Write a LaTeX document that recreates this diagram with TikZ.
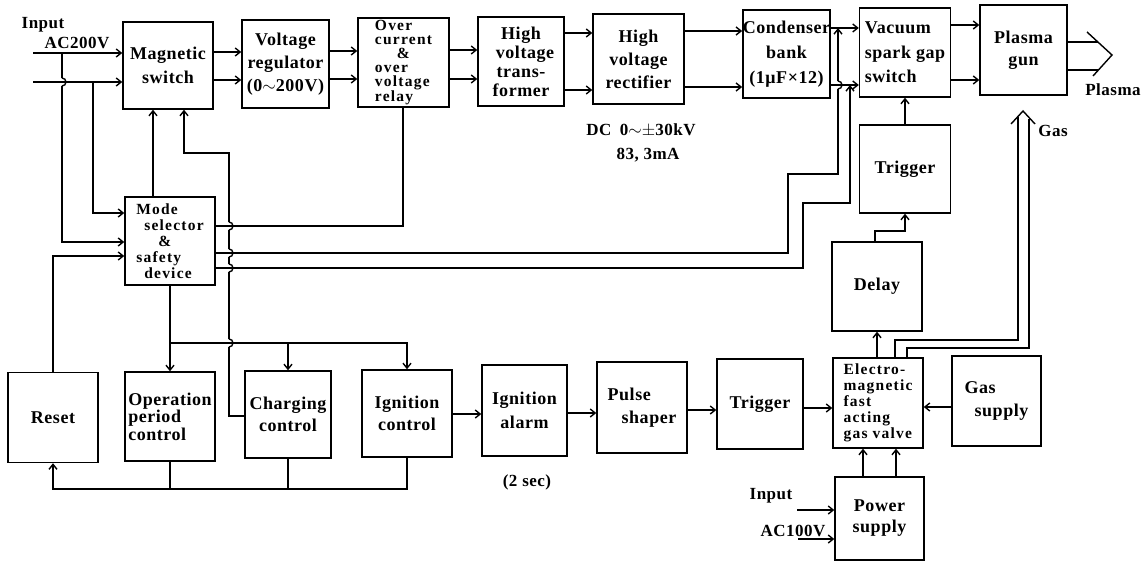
\documentclass[tikz,border=0pt]{standalone}
\usepackage{fontspec}
\setmainfont{Liberation Serif}[LetterSpace=3.0]
\newfontfamily\smallfont{Liberation Serif}[LetterSpace=8.0]
\usetikzlibrary{arrows.meta}
\tikzset{
 blk/.style={draw,inner sep=0pt,minimum width=89pt,minimum height=89pt,align=center,font=\bfseries\fontsize{18}{#1}\selectfont},
 blk/.default=22,
 sblk/.style={draw,inner sep=0pt,minimum width=90pt,minimum height=89pt,align=left,font=\smallfont\bfseries\fontsize{15.5}{#1}\selectfont},
 sblk/.default=15,
 lbl/.style={inner sep=0pt,font=\bfseries\fontsize{17}{20}\selectfont},
 arr/.style={-{Straight Barb[length=5pt,width=8pt]}}
}
\begin{document}
\begin{tikzpicture}[x=1pt,y=-1pt,line width=1.4pt]
\useasboundingbox (0,0) rectangle (1147,564);
% ---- top row
\node[blk=24,minimum width=90pt,minimum height=87pt] (ms) at (168,65.5) {Magnetic\\switch};
\node[blk=23,minimum width=87pt,minimum height=88pt] (vr) at (285.5,64) {Voltage\\regulator\\(0$\sim$200V)};
\node[sblk=14,minimum width=91pt] (ocr) at (403.5,62.5) {Over\\current\\\hspace*{22pt}\&\\over\\voltage\\relay};
\node[blk=19,minimum width=86pt] (hvt) at (521,61.5) {High\\\hspace*{8pt}voltage\\trans-\\former};
\node[blk=23,minimum width=91pt,minimum height=90pt] (hvr) at (638.5,59) {High\\voltage\\rectifier};
\node[blk=25,minimum width=87pt,minimum height=88pt] (cb) at (786.5,54) {Condenser\\bank\\(1μF×12)};
\node[blk=24.5,minimum width=91pt,align=left] (vs) at (905,52.5) {Vacuum\\spark gap\\switch};
\node[blk=22,minimum width=87pt,minimum height=90pt] (pg) at (1023.5,50) {Plasma\\gun};
% ---- right column
\node[blk,minimum width=91pt,minimum height=88pt] (trig1) at (905,169) {Trigger};
\node[blk,minimum width=90pt] (delay) at (877,286.5) {Delay};
\node[sblk=16,minimum width=90pt,minimum height=90pt] (valve) at (878,403) {Electro-\\magnetic\\fast\\acting\\gas valve};
\node[blk=23,minimum width=89pt,minimum height=90pt,align=left] (gas) at (996.5,401) {Gas\\\hspace*{10pt}supply};
\node[blk=21,minimum width=89pt,minimum height=83pt] (ps) at (879.5,518.5) {Power\\supply};
% ---- bottom row
\node[blk,minimum width=86pt,minimum height=90pt] (trig2) at (760,404) {Trigger};
\node[blk=23,minimum width=90pt,minimum height=91pt,align=left] (pulse) at (642,407.5) {Pulse\\\hspace*{14pt}shaper};
\node[blk=24,minimum width=85pt,minimum height=91pt] (alarm) at (524.5,410.5) {Ignition\\alarm};
\node[blk=22,minimum width=90pt,minimum height=87pt] (ign) at (407,413.5) {Ignition\\control};
\node[blk=22,minimum width=86pt,minimum height=87pt] (chg) at (288,414.5) {Charging\\control};
\node[blk=17.5,minimum width=90pt,minimum height=89pt,align=left] (op) at (170,416.5) {Operation\\period\\control};
\node[blk,minimum width=90pt,minimum height=90pt] (reset) at (53,417.5) {Reset};
\node[sblk=16,minimum width=90pt,minimum height=88pt] (mode) at (170,241) {Mode\\\hspace*{8pt}selector\\\hspace*{22pt}\&\\safety\\\hspace*{8pt}device};
% ---- labels
\node[lbl] (tin) at (43,25) {Input};
\node[lbl] (tac) at (77,43) {AC200V};
\node[lbl] (tdc) at (641,130) {DC\enspace 0$\sim$$\pm$30kV};
\node[lbl] (tma) at (648,155) {83, 3mA};
\node[lbl] (tsec) at (527,482) {(2 sec)};
\node[lbl] (tin2) at (771,496) {Input};
\node[lbl] (tac2) at (793,531) {AC100V};
\node[lbl] (tgas) at (1053,131) {Gas};
\node[lbl] (tpl) at (1113,90) {Plasma};
% ---- coordinates
\coordinate (inA) at (33,53);
\coordinate (inB) at (33,82);
\coordinate (jA) at (62,53);
\coordinate (jB) at (93,82);
\coordinate (jTop) at (838,28);
\coordinate (jBot) at (850,85);
\coordinate (inC) at (797,510);
\coordinate (inD) at (798,539);
\coordinate (pa) at (1098,42);
\coordinate (pb) at (1098,70);
% ---- top chain
\draw[arr] (inA) -- (ms.west |- inA);
\draw[arr] (inB) -- (ms.west |- inB);
\draw[arr] (ms.east |- 0,52) -- (vr.west |- 0,52);
\draw[arr] (ms.east |- 0,80) -- (vr.west |- 0,80);
\draw[arr] (vr.east |- 0,51) -- (ocr.west |- 0,51);
\draw[arr] (vr.east |- 0,79) -- (ocr.west |- 0,79);
\draw[arr] (ocr.east |- 0,50) -- (hvt.west |- 0,50);
\draw[arr] (ocr.east |- 0,79) -- (hvt.west |- 0,79);
\draw[arr] (hvt.east |- 0,33) -- (hvr.west |- 0,33);
\draw[arr] (hvt.east |- 0,90) -- (hvr.west |- 0,90);
\draw[arr] (hvr.east |- 0,31) -- (cb.west |- 0,31);
\draw[arr] (hvr.east |- 0,87) -- (cb.west |- 0,87);
\draw[arr] (cb.east |- 0,28) -- (vs.west |- 0,28);
\draw[arr] (cb.east |- 0,85) -- (vs.west |- 0,85);
\draw[arr] (vs.east |- 0,25) -- (pg.west |- 0,25);
\draw[arr] (vs.east |- 0,80) -- (pg.west |- 0,80);
% plasma out
\draw (pg.east |- pa) -- (pa);
\draw (pg.east |- pb) -- (pb);
\draw (1087,32) -- (1112,55) -- (1093,76);
% input branches to mode selector (vertical hops drawn as separate arcs)
\draw (jA) -- (62,78);
\draw (62,78) arc (90:-90:4pt);
\draw[arr] (62,86) -- (62,242) -- (mode.west |- 0,242);
\draw[arr] (jB) -- (93,213) -- (mode.west |- 0,213);
\draw[arr] (reset.north) -- (reset.north |- 0,256) -- (mode.west |- 0,256);
% mode -> magnetic switch
\draw[arr] (mode.north -| 153,0) -- (ms.south -| 153,0);
% charging control -> magnetic switch
\draw (chg.west |- 0,416) -- (229,416) -- (229,347);
\draw (229,347) arc (-90:90:4pt);
\draw (229,339) -- (229,272);
\draw (229,272) arc (-90:90:4pt);
\draw (229,264) -- (229,257);
\draw (229,257) arc (-90:90:4pt);
\draw (229,249) -- (229,230);
\draw (229,230) arc (-90:90:4pt);
\draw[arr] (229,222) -- (229,153) -- (184,153) -- (ms.south -| 184,0);
% relay -> mode
\draw (ocr.south -| 403,0) -- (403,226) -- (mode.east |- 0,226);
% mode -> condenser lines
\draw (mode.east |- 0,253) -- (788,253) -- (788,174) -- (838,174) -- (838,89);
\draw (838,89) arc (-90:90:4pt);
\draw[arr] (838,81) -- (jTop);
\draw[arr] (mode.east |- 0,268) -- (803,268) -- (803,203) -- (850,203) -- (jBot);
% mode -> bottom controls
\draw[arr] (mode.south) -- (op.north);
\draw[arr] (mode.south |- 0,343) -| (chg.north);
\draw[arr] (chg.north |- 0,343) -| (ign.north);
% feedback to reset
\draw (op.south) -- (op.south |- 0,489);
\draw (chg.south) -- (chg.south |- 0,489);
\draw[arr] (ign.south) |- (reset.south |- 0,489) -- (reset.south);
% bottom chain
\draw[arr] (ign.east |- 0,414) -- (alarm.west |- 0,414);
\draw[arr] (alarm.east |- 0,413) -- (pulse.west |- 0,413);
\draw[arr] (pulse.east |- 0,410) -- (trig2.west |- 0,410);
\draw[arr] (trig2.east |- 0,408) -- (valve.west |- 0,408);
\draw[arr] (gas.west |- 0,407) -- (valve.east |- 0,407);
\draw[arr] (ps.north -| 863,0) -- (valve.south -| 863,0);
\draw[arr] (ps.north -| 896,0) -- (valve.south -| 896,0);
\draw[arr] (inC) -- (ps.west |- inC);
\draw[arr] (inD) -- (ps.west |- inD);
% valve -> delay -> trigger -> switch
\draw[arr] (valve.north -| 877,0) -- (delay.south -| 877,0);
\draw[arr] (delay.north -| 875,0) -- (875,231) -| (trig1.south);
\draw[arr] (trig1.north) -- (vs.south -| trig1.north);
% gas lines
\draw (valve.north -| 895,0) -- (895,340) -- (1018,340) -- (1018,117);
\draw (valve.north -| 907,0) -- (907,348) -- (1029,348) -- (1029,119);
\draw (1011,124) -- (1023,111) -- (1035,124);
\end{tikzpicture}
\end{document}
